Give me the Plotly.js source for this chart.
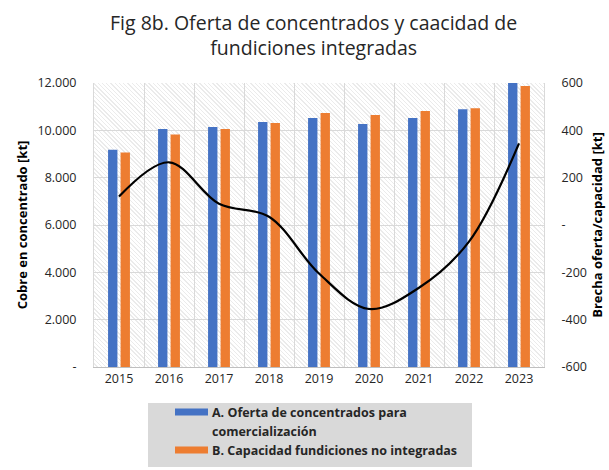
<!DOCTYPE html>
<html>
<head>
<meta charset="utf-8">
<script src="https://cdn.plot.ly/plotly-3.0.1.min.js"></script>
<style>
  html, body { margin: 0; padding: 0; background: #ffffff; }
  #wrap { position: relative; width: 609px; height: 470px; }
  #hatch {
    position: absolute; left: 94px; top: 83px; width: 450px; height: 284px;
    background: repeating-linear-gradient(45deg, #ffffff 0px, #ffffff 2px, #ebebeb 2px, #ebebeb 3px);
  }
  #chart { position: absolute; left: 0; top: 0; width: 609px; height: 470px; }
</style>
</head>
<body>
<div id="wrap">
  <div id="hatch"></div>
  <div id="chart"></div>
</div>
<script>
const years = ['2015','2016','2017','2018','2019','2020','2021','2022','2023'];
const ofertaConcentrados = [9180, 10060, 10140, 10350, 10520, 10270, 10520, 10890, 12200];
const capacidadFundiciones = [9060, 9820, 10060, 10310, 10730, 10650, 10820, 10930, 11870];
const brecha = [120, 265, 90, 35, -205, -355, -265, -70, 345];

const leftTickVals = [0, 2000, 4000, 6000, 8000, 10000, 12000];
const leftTickText = ['-', '2.000', '4.000', '6.000', '8.000', '10.000', '12.000'];
const rightTickVals = [-600, -400, -200, 0, 200, 400, 600];
const rightTickText = ['-600', '-400', '-200', '-', '200', '400', '600'];

const seriesNames = ['A. Oferta de concentrados para', 'comercialización', 'B. Capacidad fundiciones no integradas'];
const seriesColors = ['#4472C4', '#ED7D31'];

const font = 'Open Sans, Noto Sans, sans-serif';

// plot-area geometry helpers (pixels -> paper fraction)
const L = 94, R = 544, T = 83, B = 367;
const px = v => (v - L) / (R - L);
const py = v => (B - v) / (B - T);

const traces = [
  {
    type: 'bar', x: years, y: ofertaConcentrados,
    name: seriesNames[0] + ' ' + seriesNames[1],
    marker: { color: seriesColors[0] }
  },
  {
    type: 'bar', x: years, y: capacidadFundiciones,
    name: seriesNames[2],
    marker: { color: seriesColors[1] }
  },
  {
    type: 'scatter', mode: 'lines', x: years, y: brecha, yaxis: 'y2',
    name: 'Brecha oferta/capacidad',
    line: { color: '#000000', width: 2.2, shape: 'spline', smoothing: 1 }
  }
];

const legendFont = { family: font, size: 12.5, color: '#262626' };

const layout = {
  width: 609, height: 470,
  margin: { l: L, r: 609 - R, t: T, b: 470 - B },
  paper_bgcolor: 'rgba(0,0,0,0)',
  plot_bgcolor: 'rgba(0,0,0,0)',
  font: { family: font, size: 12, color: '#404040' },
  title: {
    text: 'Fig 8b. Oferta de concentrados y caacidad de<br>fundiciones integradas',
    font: { family: font, size: 19.5, color: '#262626' },
    x: 0.515, xanchor: 'center', y: 0.937, yanchor: 'top'
  },
  barmode: 'group',
  bargap: 0.5,
  bargroupgap: 0.25,
  showlegend: false,
  shapes: [
    {
      type: 'rect', xref: 'paper', yref: 'paper',
      x0: px(148), x1: px(472), y0: py(467), y1: py(403),
      fillcolor: '#d9d9d9', line: { width: 0 }, layer: 'below'
    },
    {
      type: 'rect', xref: 'paper', yref: 'paper',
      x0: px(175), x1: px(208), y0: py(415.5), y1: py(408.5),
      fillcolor: seriesColors[0], line: { width: 0 }
    },
    {
      type: 'rect', xref: 'paper', yref: 'paper',
      x0: px(175), x1: px(208), y0: py(453.5), y1: py(446.5),
      fillcolor: seriesColors[1], line: { width: 0 }
    }
  ],
  annotations: [
    { xref: 'paper', yref: 'paper', x: px(210), y: py(412), xanchor: 'left', yanchor: 'middle',
      text: '<b>' + seriesNames[0] + '</b>', showarrow: false, font: legendFont },
    { xref: 'paper', yref: 'paper', x: px(210), y: py(431), xanchor: 'left', yanchor: 'middle',
      text: '<b>' + seriesNames[1] + '</b>', showarrow: false, font: legendFont },
    { xref: 'paper', yref: 'paper', x: px(210), y: py(450), xanchor: 'left', yanchor: 'middle',
      text: '<b>' + seriesNames[2] + '</b>', showarrow: false, font: legendFont }
  ],
  xaxis: {
    type: 'category',
    tickson: 'boundaries',
    showgrid: true, gridcolor: '#d9d9d9', gridwidth: 1,
    showline: true, linecolor: '#bfbfbf', mirror: false,
    ticks: 'outside', ticklen: 9, tickcolor: 'rgba(0,0,0,0)',
    tickfont: { family: font, size: 12.5, color: '#262626' },
    fixedrange: true
  },
  yaxis: {
    range: [0, 12000],
    tickvals: leftTickVals, ticktext: leftTickText,
    showgrid: true, gridcolor: '#d9d9d9', gridwidth: 1,
    zeroline: false,
    showline: true, linecolor: '#d9d9d9', mirror: true,
    ticks: 'outside', ticklen: 14, tickcolor: 'rgba(0,0,0,0)',
    tickfont: { family: font, size: 12.5, color: '#262626' },
    title: { text: '<b>Cobre en concentrado [kt]</b>', font: { family: font, size: 13, color: '#000000' }, standoff: 6 }
  },
  yaxis2: {
    range: [-600, 600], overlaying: 'y', side: 'right',
    tickvals: rightTickVals, ticktext: rightTickText,
    showgrid: false, zeroline: false, showline: false,
    ticks: 'outside', ticklen: 14, tickcolor: 'rgba(0,0,0,0)',
    tickfont: { family: font, size: 12.5, color: '#262626' },
    title: { text: '<b>Brecha oferta/capacidad [kt]</b>', font: { family: font, size: 13, color: '#000000' }, standoff: 6 }
  }
};

Plotly.newPlot('chart', traces, layout, { staticPlot: true, displayModeBar: false });
</script>
</body>
</html>
